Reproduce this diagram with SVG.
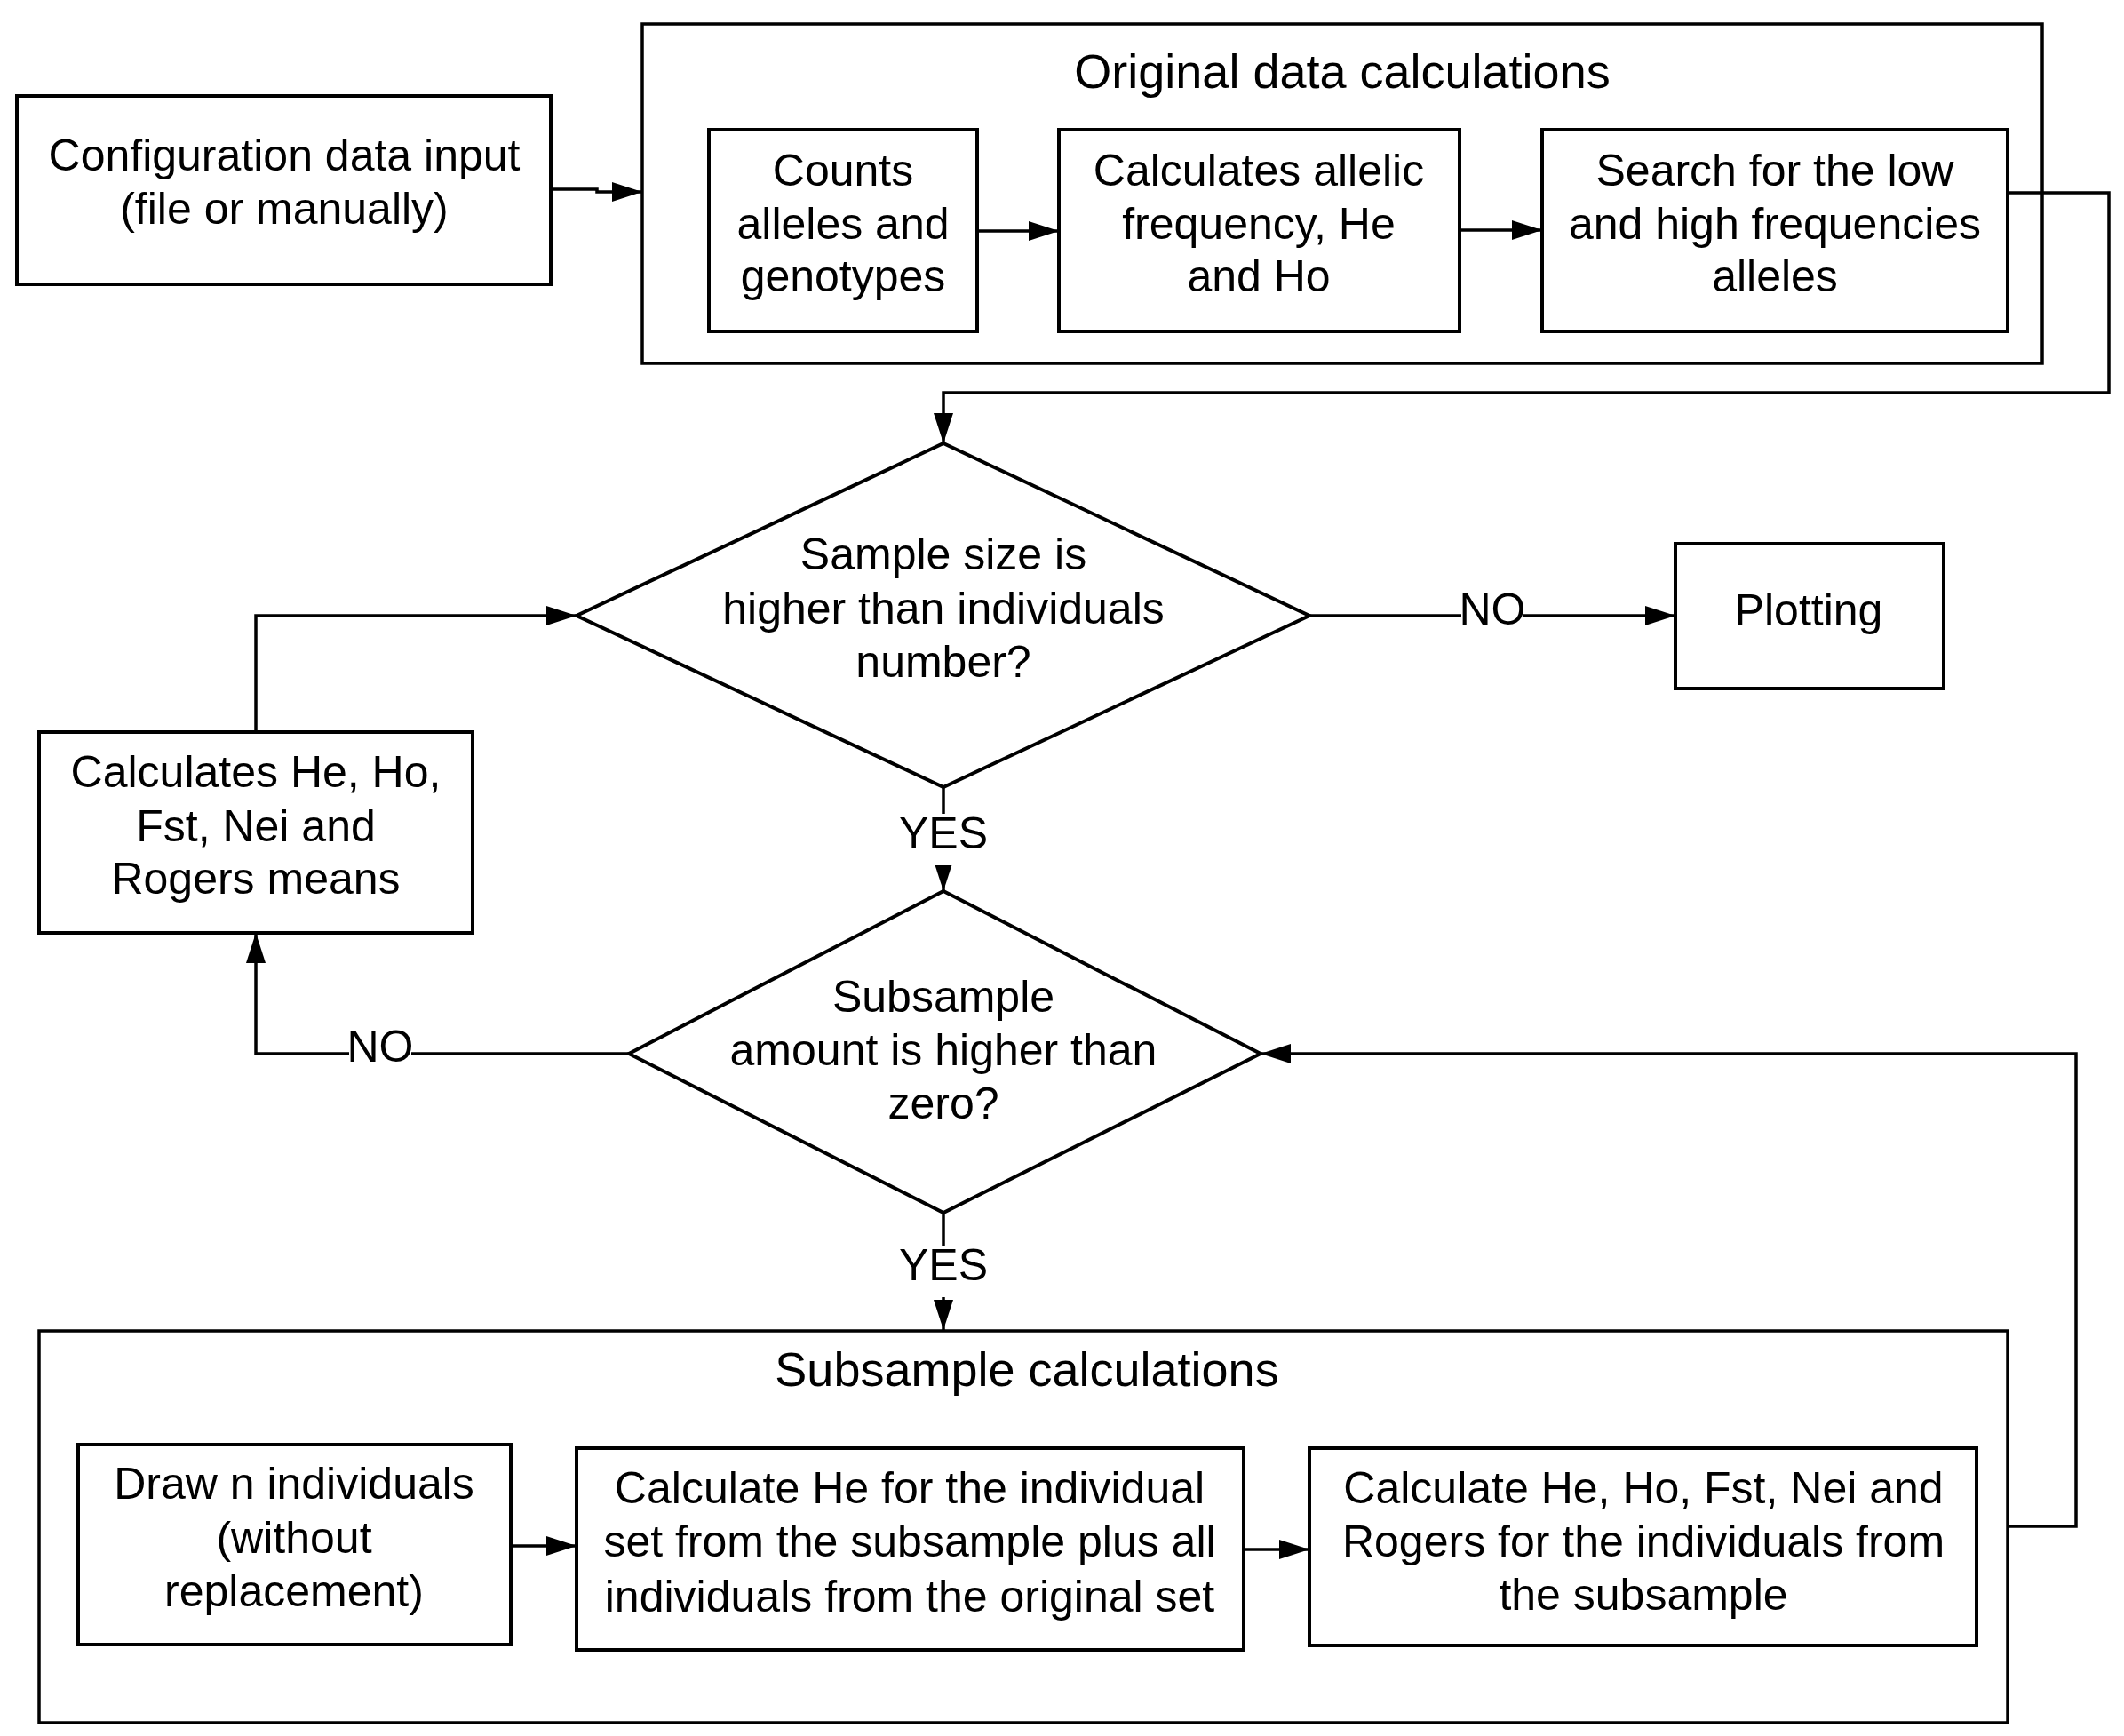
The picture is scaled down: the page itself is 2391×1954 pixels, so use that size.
<svg xmlns="http://www.w3.org/2000/svg" width="2391" height="1954" viewBox="0 0 2391 1954">
<style>
.box{fill:#fff;stroke:#000;stroke-width:4}
.cont{fill:none;stroke:#000;stroke-width:3.5}
.conn{fill:none;stroke:#000;stroke-width:3.5;marker-end:url(#arr)}
.t{font-family:"Liberation Sans",Arial,sans-serif;font-size:50px;fill:#000;text-anchor:middle}
.title{font-size:54px}
.lbl{fill:#fff;stroke:none}
</style>
<defs>
<marker id="arr" markerUnits="userSpaceOnUse" markerWidth="34" markerHeight="22" refX="34" refY="11" orient="auto">
<path d="M0,0 L34,11 L0,22 z" fill="#000"/>
</marker>
</defs>
<rect width="2391" height="1954" fill="#fff"/>

<g id="original-container">
<rect class="cont" x="723" y="27" width="1576" height="382"/>
<text class="t title" x="1511" y="99">Original data calculations</text>
</g>
<g id="subsample-container">
<rect class="cont" x="44" y="1498" width="2216" height="441"/>
<text class="t title" x="1156" y="1560">Subsample calculations</text>
</g>

<g id="connectors">
<polyline class="conn" points="620,213 672,213 672,216 723,216"/>
<polyline class="conn" points="1100,260 1192,260"/>
<polyline class="conn" points="1643,259 1736,259"/>
<polyline class="conn" points="2260,217 2374,217 2374,442 1062,442 1062,499"/>
<polyline class="conn" points="1474,693 1886,693"/>
<polyline class="conn" points="1062,886 1062,1003"/>
<polyline class="conn" points="288,823 288,693 649,693"/>
<polyline class="conn" points="708,1186 288,1186 288,1050"/>
<polyline class="conn" points="1062,1365 1062,1497"/>
<polyline class="conn" points="575,1740 649,1740"/>
<polyline class="conn" points="1400,1744 1474,1744"/>
<polyline class="conn" points="2260,1718 2337,1718 2337,1186 1419,1186"/>
<rect class="lbl" x="1645" y="660" width="70" height="52"/>
<text class="t" x="1680" y="703">NO</text>
<rect class="lbl" x="1014" y="916" width="96" height="58"/>
<text class="t" x="1062" y="955">YES</text>
<rect class="lbl" x="393" y="1152" width="70" height="52"/>
<text class="t" x="428" y="1195">NO</text>
<rect class="lbl" x="1014" y="1402" width="96" height="58"/>
<text class="t" x="1062" y="1441">YES</text>
</g>

<g id="config">
<rect class="box" x="19" y="108" width="601" height="212"/>
<text class="t" x="320" y="192">Configuration data input</text>
<text class="t" x="320" y="252">(file or manually)</text>
</g>
<g id="counts">
<rect class="box" x="798" y="146" width="302" height="227"/>
<text class="t" x="949" y="209">Counts</text>
<text class="t" x="949" y="269">alleles and</text>
<text class="t" x="949" y="328">genotypes</text>
</g>
<g id="allelic">
<rect class="box" x="1192" y="146" width="451" height="227"/>
<text class="t" x="1417" y="209">Calculates allelic</text>
<text class="t" x="1417" y="269">frequency, He</text>
<text class="t" x="1417" y="328">and Ho</text>
</g>
<g id="search">
<rect class="box" x="1736" y="146" width="524" height="227"/>
<text class="t" x="1998" y="209">Search for the low</text>
<text class="t" x="1998" y="269">and high frequencies</text>
<text class="t" x="1998" y="328">alleles</text>
</g>
<g id="decision1">
<polygon class="box" points="1062,499 1474,693 1062,886 649,693"/>
<text class="t" x="1062" y="641">Sample size is</text>
<text class="t" x="1062" y="702">higher than individuals</text>
<text class="t" x="1062" y="762">number?</text>
</g>
<g id="plotting">
<rect class="box" x="1886" y="612" width="302" height="163"/>
<text class="t" x="2036" y="704">Plotting</text>
</g>
<g id="means">
<rect class="box" x="44" y="824" width="488" height="226"/>
<text class="t" x="288" y="886">Calculates He, Ho,</text>
<text class="t" x="288" y="947">Fst, Nei and</text>
<text class="t" x="288" y="1006">Rogers means</text>
</g>
<g id="decision2">
<polygon class="box" points="1062,1003 1419,1186 1062,1365 708,1186"/>
<text class="t" x="1062" y="1139">Subsample</text>
<text class="t" x="1062" y="1199">amount is higher than</text>
<text class="t" x="1062" y="1259">zero?</text>
</g>
<g id="draw">
<rect class="box" x="88" y="1626" width="487" height="225"/>
<text class="t" x="331" y="1687">Draw n individuals</text>
<text class="t" x="331" y="1748">(without</text>
<text class="t" x="331" y="1808">replacement)</text>
</g>
<g id="calc-he">
<rect class="box" x="649" y="1630" width="751" height="227"/>
<text class="t" x="1024" y="1692">Calculate He for the individual</text>
<text class="t" x="1024" y="1752">set from the subsample plus all</text>
<text class="t" x="1024" y="1814">individuals from the original set</text>
</g>
<g id="calc-all">
<rect class="box" x="1474" y="1630" width="751" height="222"/>
<text class="t" x="1850" y="1692">Calculate He, Ho, Fst, Nei and</text>
<text class="t" x="1850" y="1752">Rogers for the individuals from</text>
<text class="t" x="1850" y="1812">the subsample</text>
</g>
</svg>
